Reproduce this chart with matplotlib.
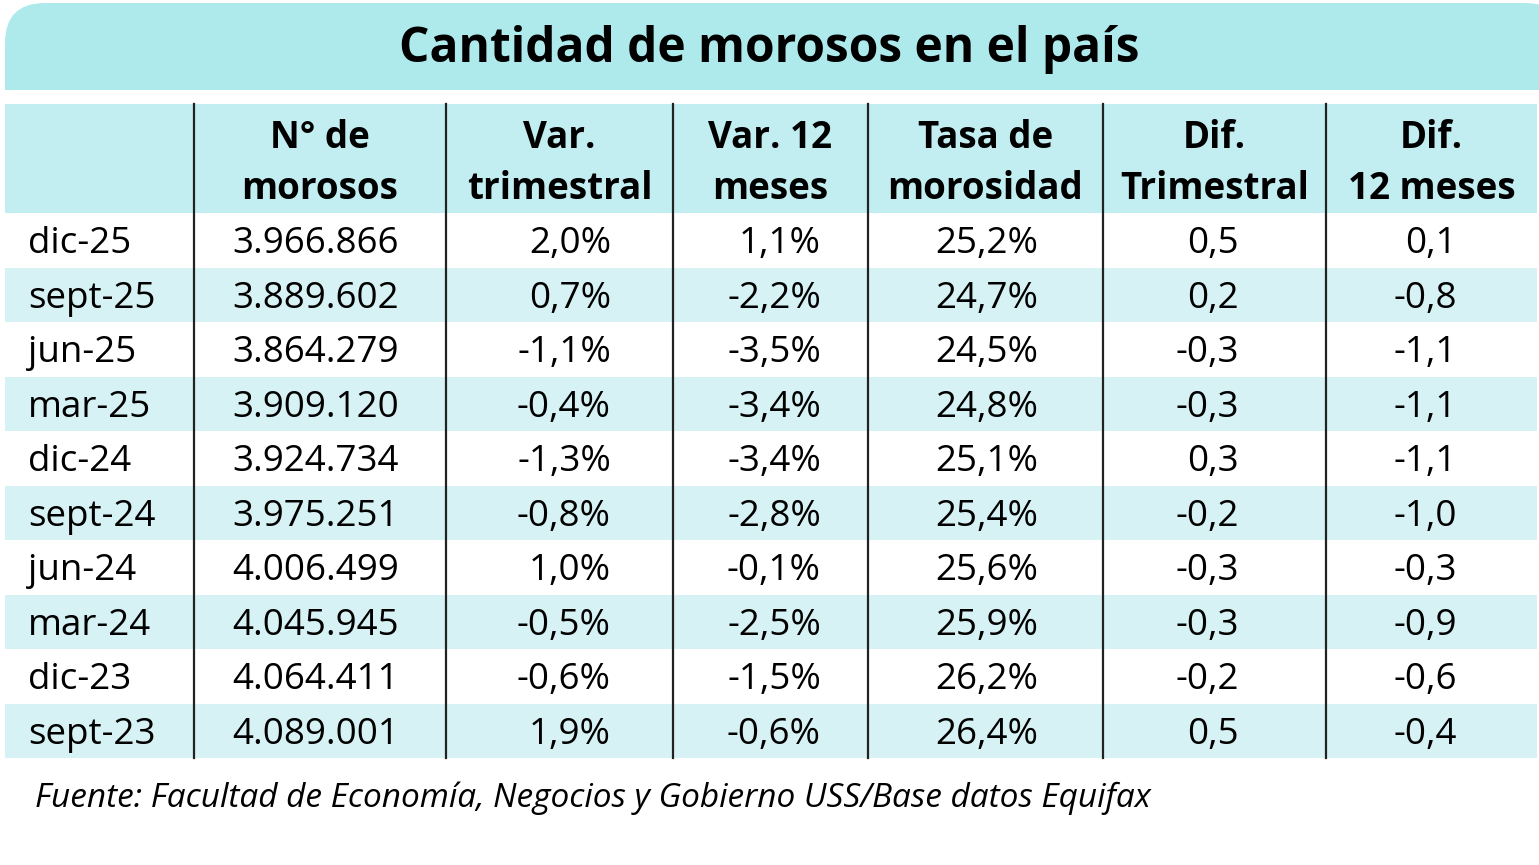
import matplotlib
matplotlib.use("Agg")
import matplotlib.pyplot as plt
from matplotlib.patches import Rectangle, FancyBboxPatch

titulo = "Cantidad de morosos en el país"
fuente = "Fuente: Facultad de Economía, Negocios y Gobierno USS/Base datos Equifax"

encabezados = ["", "N° de\nmorosos", "Var.\ntrimestral", "Var. 12\nmeses",
               "Tasa de\nmorosidad", "Dif.\nTrimestral", "Dif.\n12 meses"]

periodos = ["dic-25", "sept-25", "jun-25", "mar-25", "dic-24",
            "sept-24", "jun-24", "mar-24", "dic-23", "sept-23"]
morosos = [3966866, 3889602, 3864279, 3909120, 3924734,
           3975251, 4006499, 4045945, 4064411, 4089001]
var_trim = [2.0, 0.7, -1.1, -0.4, -1.3, -0.8, 1.0, -0.5, -0.6, 1.9]
var_12m = [1.1, -2.2, -3.5, -3.4, -3.4, -2.8, -0.1, -2.5, -1.5, -0.6]
tasa = [25.2, 24.7, 24.5, 24.8, 25.1, 25.4, 25.6, 25.9, 26.2, 26.4]
dif_trim = [0.5, 0.2, -0.3, -0.3, 0.3, -0.2, -0.3, -0.3, -0.2, 0.5]
dif_12m = [0.1, -0.8, -1.1, -1.1, -1.1, -1.0, -0.3, -0.9, -0.6, -0.4]


def miles(n):
    return f"{n:,}".replace(",", ".")


def dec(v, pct=False):
    s = f"{v:.1f}".replace(".", ",")
    return s + "%" if pct else s


plt.rcParams['font.family'] = ['Open Sans', 'DejaVu Sans']

fig = plt.figure(figsize=(15.39, 8.65), dpi=100)
ax = fig.add_axes([0, 0, 1, 1])
ax.set_xlim(0, 1539)
ax.set_ylim(865, 0)
ax.axis("off")

c_titulo = "#aeeaec"
c_head = "#c2eef1"
c_franja = "#d6f2f4"

# banda del título
ax.add_patch(FancyBboxPatch((5, 3), 1560, 87, boxstyle="round,pad=0,rounding_size=40",
                            fc=c_titulo, ec="none"))
ax.add_patch(Rectangle((5, 50), 1560, 40, fc=c_titulo, ec="none"))
ax.text(769, 50, titulo, ha="center", va="center", fontsize=34.5, fontweight="bold")

# encabezado
col_x = [5, 194, 446, 673, 868, 1103, 1326, 1537]
y_head0, y_head1 = 104, 213
alto = 54.5
ax.add_patch(Rectangle((5, y_head0), 1532, y_head1 - y_head0, fc=c_head, ec="none"))
for i in range(1, 7):
    cx = (col_x[i] + col_x[i + 1]) / 2
    ax.text(cx, (y_head0 + y_head1) / 2 + 5, encabezados[i], ha="center", va="center",
            fontsize=26.5, fontweight="bold", linespacing=1.42)

# filas
n = len(periodos)
for r in range(n):
    y0 = y_head1 + r * alto
    if r % 2 == 1:
        ax.add_patch(Rectangle((5, y0), 1532, alto, fc=c_franja, ec="none"))
    yc = y0 + alto / 2 + 4
    kw = dict(va="center", fontsize=26.5)
    ax.text(28, yc, periodos[r], ha="left", **kw)
    ax.text(316, yc, miles(morosos[r]), ha="center", **kw)
    ax.text(611, yc, dec(var_trim[r], True), ha="right", **kw)
    ax.text(821, yc, dec(var_12m[r], True), ha="right", **kw)
    ax.text(1038, yc, dec(tasa[r], True), ha="right", **kw)
    ax.text(1239, yc, dec(dif_trim[r]), ha="right", **kw)
    ax.text(1457, yc, dec(dif_12m[r]), ha="right", **kw)

y_fin = y_head1 + n * alto
for x in col_x[1:-1]:
    ax.plot([x, x], [y_head0, y_fin], color="#222222", lw=1.6)

ax.text(35, 798, fuente, ha="left", va="center", fontsize=24, style="italic")

fig.savefig("out.png", dpi=100)
